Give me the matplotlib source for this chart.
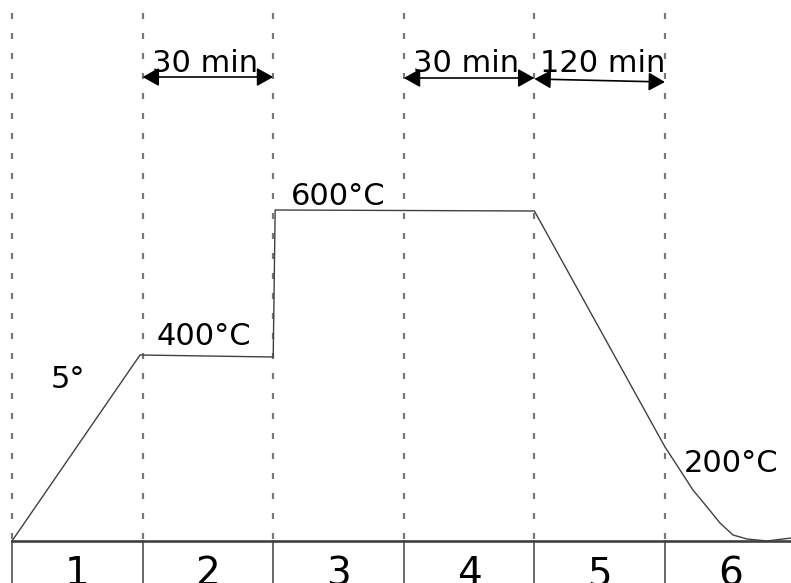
import matplotlib.pyplot as plt
import numpy as np

plt.rcParams['lines.scale_dashes'] = False
plt.rcParams['font.family'] = 'DejaVu Sans'

# stage boundaries (stage units) and temperature profile (height above baseline)
stages = ['1', '2', '3', '4', '5', '6']
bounds = [0, 1, 2, 3, 4, 5]
prof_x = [0, 0.98, 2.0, 2.015, 4.0, 5.0, 5.115, 5.214, 5.322, 5.421, 5.521, 5.628, 5.781, 5.965]
prof_y = [0, 186, 184, 331, 330, 94, 71, 51, 34, 18, 6, 2, 0, 3]

# text labels: (text, x, y)
temp_labels = [("5°", 0.43, 153), ("400°C", 1.47, 196), ("600°C", 2.5, 336), ("200°C", 5.505, 69)]
# duration arrows: (text, x0, x1, y0, y1, text x)
durations = [("30 min", 1, 2, 464, 464, 1.48),
             ("30 min", 3, 4, 463, 463, 3.48),
             ("120 min", 4, 5, 462, 459, 4.52)]

fig = plt.figure(figsize=(7.91, 5.83), dpi=100)
ax = fig.add_axes([0, 0, 1, 1])
ax.set_xlim(-12 / 130.6, (791 - 12) / 130.6)
ax.set_ylim(-42, 541)
ax.axis('off')

# dashed stage dividers
for b in bounds:
    ax.plot([b, b], [528, 0], color='#777777', lw=1.6, dashes=(4.3, 10.1))

# baseline and table cells
ax.plot([0, 6], [0, 0], color='#404040', lw=1.9)
for b in bounds:
    ax.plot([b, b], [0, -42], color='#404040', lw=1.1)
for i, s in enumerate(stages):
    ax.text(i + 0.5, -44, s, ha='center', va='baseline', fontsize=28)

# profile
ax.plot(prof_x, prof_y, color='#404040', lw=1.0)

for t, x, y in temp_labels:
    ax.text(x, y, t, ha='center', va='baseline', fontsize=22)

for t, x0, x1, y0, y1, tx in durations:
    ax.annotate('', xy=(x1, y1), xytext=(x0, y0),
                arrowprops=dict(arrowstyle='<|-|>,head_length=0.5,head_width=0.28',
                                mutation_scale=20, color='black', lw=1.2,
                                shrinkA=0, shrinkB=0))
    ax.text(tx, 469, t, ha='center', va='baseline', fontsize=22)

fig.savefig('out.png', dpi=100)
